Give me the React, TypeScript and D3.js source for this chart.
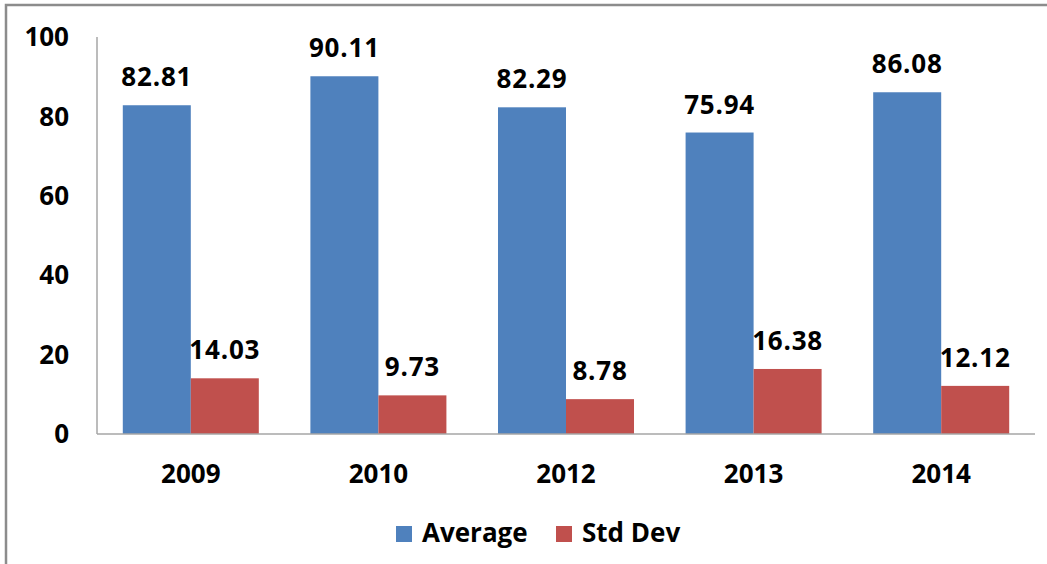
import React from 'react';
import * as d3 from 'd3';

const years = ['2009', '2010', '2012', '2013', '2014'];
const seriesNames = ['Average', 'Std Dev'];
const averageValues = [82.81, 90.11, 82.29, 75.94, 86.08];
const stdDevValues = [14.03, 9.73, 8.78, 16.38, 12.12];
const yTicks = [0, 20, 40, 60, 80, 100];
const colors = ['#4F81BD', '#C0504D'];

const W = 1047;
const H = 564;
const margin = { left: 97, right: 12, top: 37, bottom: 130 };
const font = '"Open Sans", "Liberation Sans", sans-serif';

export default function App() {
  const plotBottom = H - margin.bottom; // 434
  const x0 = d3.scaleBand().domain(years).range([margin.left, W - margin.right]).paddingInner(0).paddingOuter(0);
  const bw = x0.bandwidth();
  const gap = bw * 0.275;
  const x1 = d3.scaleBand().domain(seriesNames).range([gap / 2, bw - gap / 2]);
  const y = d3.scaleLinear().domain([0, 100]).range([plotBottom, margin.top]);
  const seriesValues = [averageValues, stdDevValues];

  const bars: any[] = [];
  const labels: any[] = [];
  seriesNames.forEach((s, si) => {
    years.forEach((yr, i) => {
      const v = seriesValues[si][i];
      const bx = (x0(yr) as number) + (x1(s) as number);
      bars.push(
        <rect key={`b_${s}_${yr}`} x={bx} y={y(v)} width={x1.bandwidth()} height={plotBottom - y(v)} fill={colors[si]} />
      );
      labels.push(
        <text key={`l_${s}_${yr}`} x={bx + x1.bandwidth() / 2} y={y(v) - 19} textAnchor="middle"
          fontSize={26} fontWeight="bold" fontFamily={font} letterSpacing={0.8} fill="#000">
          {v.toFixed(2)}
        </text>
      );
    });
  });

  return (
    <svg width={W} height={H} style={{ position: 'absolute', left: 0, top: 0, background: '#fff' }}>
      <rect x={6} y={5} width={W + 10} height={H + 10} fill="#fff" stroke="#8c8c8c" strokeWidth={2.5} />
      {/* axes */}
      <line x1={margin.left} x2={margin.left} y1={margin.top} y2={plotBottom} stroke="#a6a6a6" strokeWidth={1.5} />
      {yTicks.map(t => (
        <text key={t} x={69} y={y(t)} dy="0.35em" textAnchor="end" fontSize={26} fontWeight="bold" fontFamily={font} fill="#000">
          {t}
        </text>
      ))}
      {bars}
      <line x1={margin.left} x2={W - margin.right} y1={plotBottom} y2={plotBottom} stroke="#a6a6a6" strokeWidth={1.5} />
      {labels}
      {years.map(yr => (
        <text key={yr} x={(x0(yr) as number) + bw / 2} y={483} textAnchor="middle" fontSize={26} fontWeight="bold" fontFamily={font} fill="#000">
          {yr}
        </text>
      ))}
      {/* legend */}
      <rect x={396} y={526} width={16} height={16} fill={colors[0]} />
      <text x={422} y={542} fontSize={26} fontWeight="bold" fontFamily={font} fill="#000">{seriesNames[0]}</text>
      <rect x={556} y={526} width={16} height={16} fill={colors[1]} />
      <text x={582} y={542} fontSize={26} fontWeight="bold" fontFamily={font} fill="#000">{seriesNames[1]}</text>
    </svg>
  );
}
